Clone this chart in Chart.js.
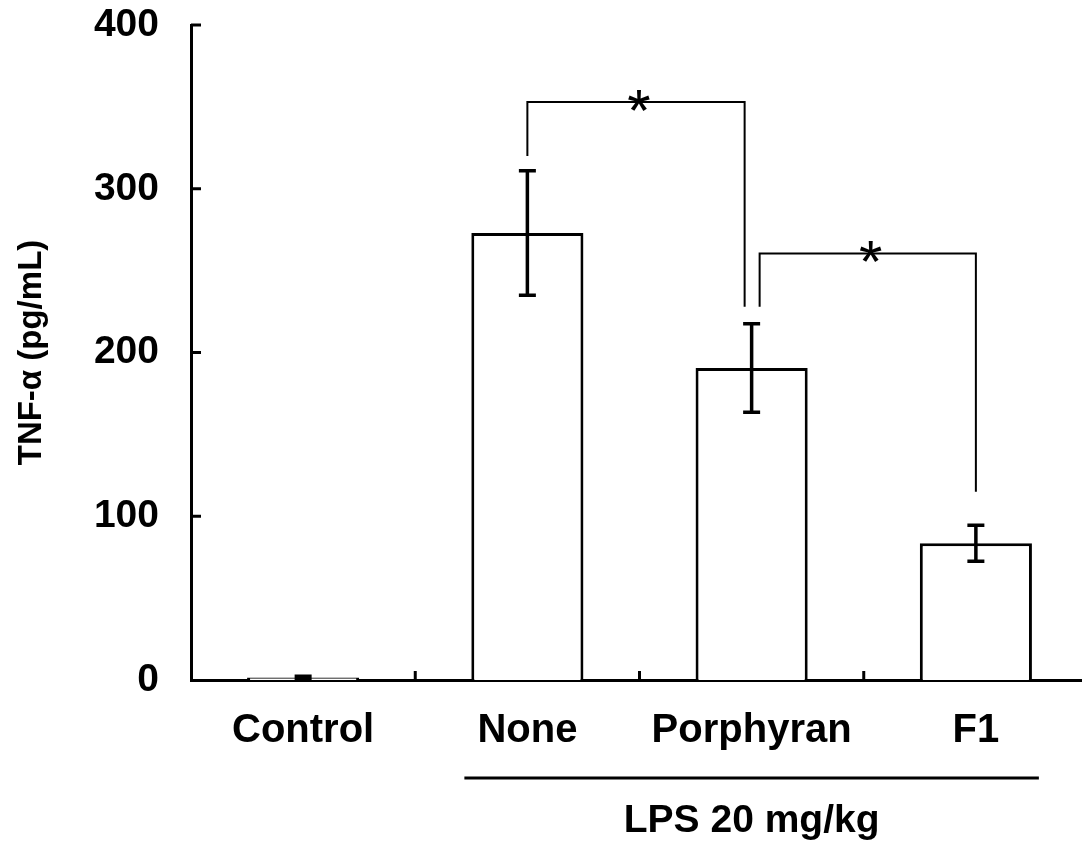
<!DOCTYPE html>
<html><head><meta charset="utf-8">
<script src="https://cdn.jsdelivr.net/npm/chart.js@4.4.1/dist/chart.umd.min.js"></script>
<style>html,body{margin:0;padding:0;background:#fff;overflow:hidden}#wrap{width:1082px;height:849px;overflow:hidden}</style>
</head><body><div id="wrap"><canvas id="c" width="1088" height="849"></canvas></div>
<script>
// ---- data ----
const categories = ['Control', 'None', 'Porphyran', 'F1'];
const meanValues = [1.5, 273, 190.5, 83.5];
const errorValues = [0.8, 38, 27, 11];
const yTicks = [0, 100, 200, 300, 400];
const sigPairs = [[1, 2], [2, 3]];
const sigTopValues = [353, 260.5];
const sigLeftEndValues = [320, 228];
const sigRightEndValues = [228, 115];
const sigLabels = ['*', '*'];
const groupLabel = 'LPS 20 mg/kg';
const groupRange = [1, 3];
const yTitle = 'TNF-α (pg/mL)';

const FONT = '"Liberation Sans", Arial, Helvetica, sans-serif';

const decorPlugin = {
  id: 'decor',
  afterDraw(chart) {
    const ctx = chart.ctx, xs = chart.scales.x, ys = chart.scales.y;
    const meta = chart.getDatasetMeta(0);
    ctx.save();
    ctx.strokeStyle = '#000';
    ctx.fillStyle = '#000';
    ctx.lineCap = 'butt';
    // inward y ticks
    ctx.lineWidth = 3;
    yTicks.forEach(v => {
      if (v === 0) return;
      const py = ys.getPixelForValue(v);
      ctx.beginPath(); ctx.moveTo(xs.left, py); ctx.lineTo(xs.left + 10, py); ctx.stroke();
    });
    // inward x ticks at category boundaries
    for (let i = 1; i < categories.length; i++) {
      const px = (xs.getPixelForValue(i - 1) + xs.getPixelForValue(i)) / 2;
      ctx.beginPath(); ctx.moveTo(px, ys.bottom); ctx.lineTo(px, ys.bottom - 9); ctx.stroke();
    }
    // error bars
    ctx.lineWidth = 3.5;
    meta.data.forEach((bar, i) => {
      const px = bar.x;
      const t = ys.getPixelForValue(meanValues[i] + errorValues[i]);
      const b = ys.getPixelForValue(meanValues[i] - errorValues[i]);
      ctx.beginPath();
      ctx.moveTo(px, t); ctx.lineTo(px, b);
      ctx.moveTo(px - 8.5, t); ctx.lineTo(px + 8.5, t);
      ctx.moveTo(px - 8.5, b); ctx.lineTo(px + 8.5, b);
      ctx.stroke();
    });
    // significance brackets
    ctx.lineWidth = 2;
    sigPairs.forEach((pair, k) => {
      let xl = meta.data[pair[0]].x, xr = meta.data[pair[1]].x;
      if (k === 0) xr -= 7; else xl += 8;
      const yt = ys.getPixelForValue(sigTopValues[k]);
      const yl = ys.getPixelForValue(sigLeftEndValues[k]);
      const yr = ys.getPixelForValue(sigRightEndValues[k]);
      ctx.beginPath();
      ctx.moveTo(xl, yl); ctx.lineTo(xl, yt); ctx.lineTo(xr, yt); ctx.lineTo(xr, yr);
      ctx.stroke();
      ctx.font = '60px ' + FONT;
      ctx.textAlign = 'center';
      ctx.textBaseline = 'alphabetic';
      ctx.fillText(sigLabels[k], (xl + xr) / 2 + 3, yt + 29);
    });
    // group line and label
    const gx1 = xs.getPixelForValue(groupRange[0]) - 63;
    const gx2 = xs.getPixelForValue(groupRange[1]) + 63;
    ctx.lineWidth = 3;
    ctx.beginPath(); ctx.moveTo(gx1, 778); ctx.lineTo(gx2, 778); ctx.stroke();
    ctx.font = 'bold 39px ' + FONT;
    ctx.textAlign = 'center';
    ctx.textBaseline = 'alphabetic';
    ctx.fillText(groupLabel, (gx1 + gx2) / 2, 832);
    ctx.restore();
  }
};

new Chart(document.getElementById('c'), {
  type: 'bar',
  data: {
    labels: categories,
    datasets: [{
      data: meanValues,
      backgroundColor: '#fff',
      borderColor: '#000',
      borderWidth: 3,
      barPercentage: 0.5,
      categoryPercentage: 1.0
    }]
  },
  options: {
    responsive: false,
    animation: false,
    devicePixelRatio: 1,
    layout: { padding: 0 },
    plugins: { legend: { display: false }, tooltip: { enabled: false } },
    scales: {
      x: {
        type: 'category',
        offset: true,
        grid: { display: false, drawTicks: false },
        border: { display: true, color: '#000', width: 3 },
        ticks: { color: '#000', font: { family: FONT, size: 40, weight: 'bold' }, padding: 27, maxRotation: 0, autoSkip: false },
        afterFit(s) { s.height = 169; s.paddingLeft = 0; s.paddingRight = 0; }
      },
      y: {
        min: 0, max: 400,
        grid: { display: false, drawTicks: false },
        border: { display: true, color: '#000', width: 3 },
        ticks: { color: '#000', font: { family: FONT, size: 39, weight: 'bold' }, padding: 32 },
        afterBuildTicks(s) { s.ticks = yTicks.map(v => ({ value: v })); },
        title: { display: true, text: yTitle, color: '#000', font: { family: FONT, size: 33, weight: 'bold' }, padding: { top: 12, bottom: 0 } },
        afterFit(s) { s.width = 191; s.paddingTop = 25; s.paddingBottom = 0; }
      }
    }
  },
  plugins: [decorPlugin]
});
</script>
</body></html>
